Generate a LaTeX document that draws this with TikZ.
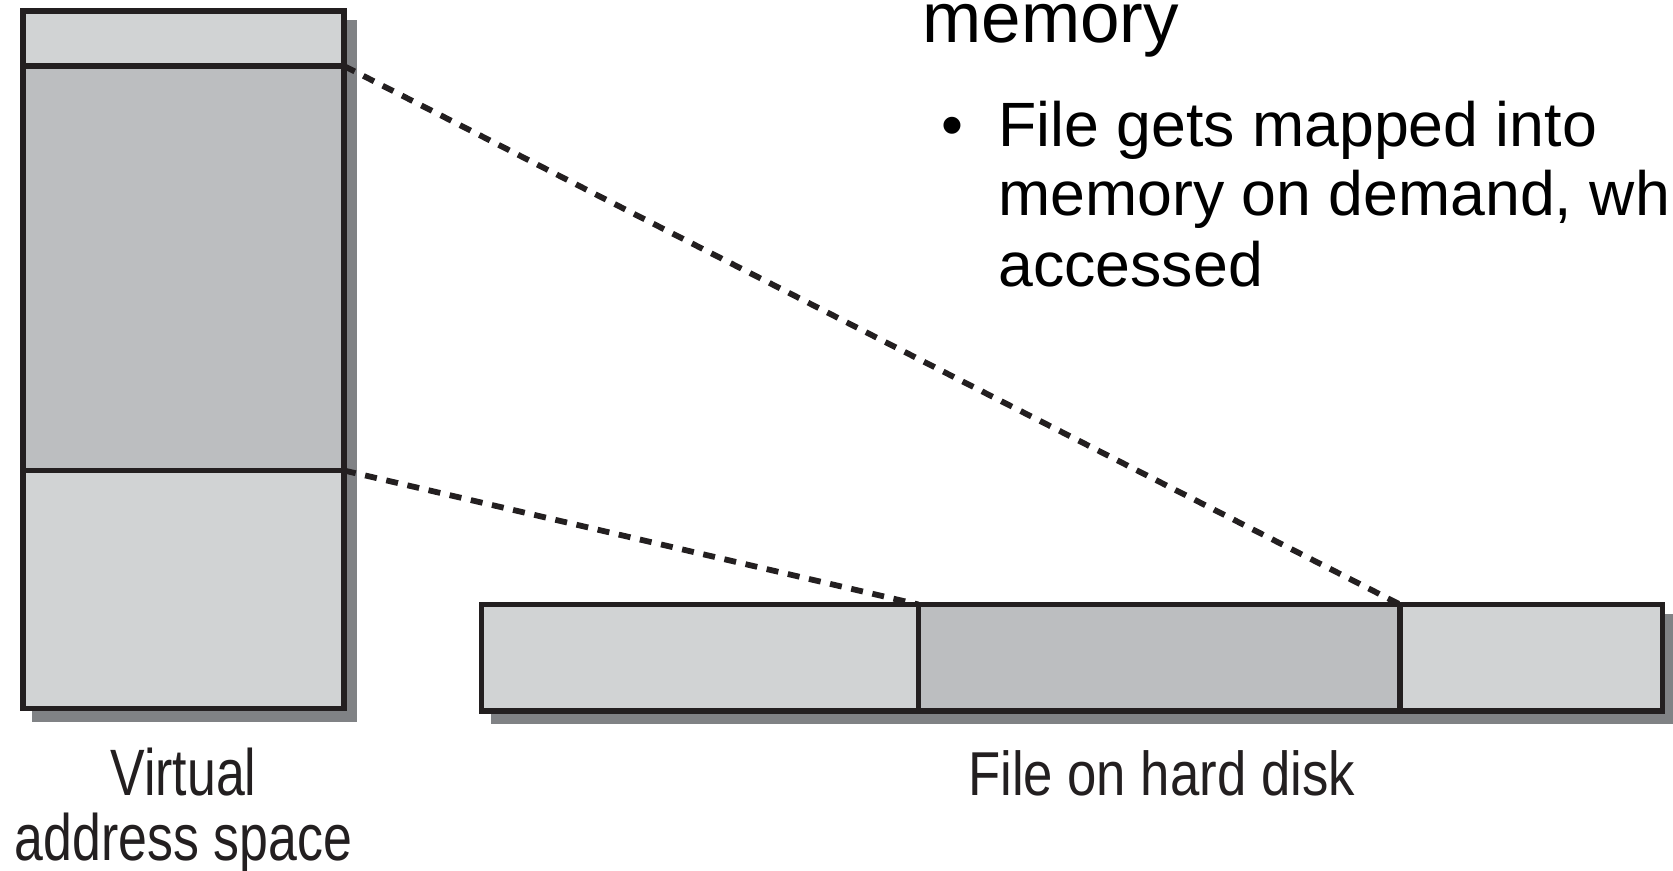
\documentclass[tikz,border=0pt]{standalone}
\usepackage{fontspec}
\setmainfont{Liberation Sans}
\usetikzlibrary{fit}
\definecolor{lightfill}{HTML}{D1D3D4}
\definecolor{darkfill}{HTML}{BCBEC0}
\definecolor{shadowgray}{HTML}{808285}
\definecolor{ink}{HTML}{231F20}
\begin{document}
\begin{tikzpicture}[x=0.5pt,y=-0.5pt,
  frame/.style={inner sep=0pt, outer sep=0pt, rectangle},
  lightseg/.style={frame, draw=ink, fill=lightfill, line width=2.8pt},
  darkseg/.style={frame, draw=ink, fill=darkfill, line width=2.8pt},
  outline/.style={draw=ink, line width=2.8pt},
  shadowfill/.style={fill=shadowgray},
  mapline/.style={draw=ink, line width=2.9pt, dash pattern=on 6pt off 4.85pt},
  slidetext/.style={inner sep=0pt, anchor=base west, text=black, font=\fontsize{31.3}{35}\selectfont},
  figlabel/.style={inner sep=0pt, anchor=base, text=ink}
]
\useasboundingbox (0,0) rectangle (1673,871);

% outer frames (for shadows)
\node[frame, fit={(23,11) (344,708.5)}] (vas) {};
\node[frame, fit={(481.5,604.5) (1662.5,711)}] (disk) {};

% shadows
\fill[shadowfill] ([shift={(9,9)}]vas.north west) rectangle ([shift={(13,13)}]vas.south east);
\fill[shadowfill] ([shift={(9,9)}]disk.north west) rectangle ([shift={(13,13)}]disk.south east);

% virtual address space segments
\node[lightseg, fit={(23,11) (344,66)}] (vtop) {};
\node[darkseg, fit={(23,66) (344,470.5)}] (vmid) {};
\node[lightseg, fit={(23,470.5) (344,708.5)}] (vbot) {};
\draw[outline] (vas.north west) rectangle (vas.south east);

% file on disk segments
\node[lightseg, fit={(481.5,604.5) (918.5,711)}] (dleft) {};
\node[darkseg, fit={(918.5,604.5) (1400,711)}] (dmid) {};
\node[lightseg, fit={(1400,604.5) (1662.5,711)}] (dright) {};
\draw[outline] (disk.north west) rectangle (disk.south east);

% mapping lines
\draw[mapline] (vmid.north east) -- (dmid.north east);
\draw[mapline] (vmid.south east) -- (dmid.north west);

% labels
\node[figlabel, font=\fontsize{32.8}{36}\selectfont] (lblv1) at (183.5,795) {\scalebox{0.79}[1]{Virtual}};
\node[figlabel, font=\fontsize{32.8}{36}\selectfont] (lblv2) at (183.5,860) {\scalebox{0.79}[1]{address space}};
\node[figlabel, font=\fontsize{31}{36}\selectfont] (lbld) at (1161.5,795) {\scalebox{0.85}[1]{File on hard disk}};

% slide text
\node[slidetext, font=\fontsize{35.5}{40}\selectfont] (mem) at (922,42.7) {memory};
\node[slidetext] (bullet) at (941,147) {•};
\node[slidetext] (line1) at (998,147) {File gets mapped into};
\node[slidetext] (line2) at (998,216) {memory on demand, wh};
\node[slidetext] (line3) at (998,287) {accessed};
\end{tikzpicture}
\end{document}
